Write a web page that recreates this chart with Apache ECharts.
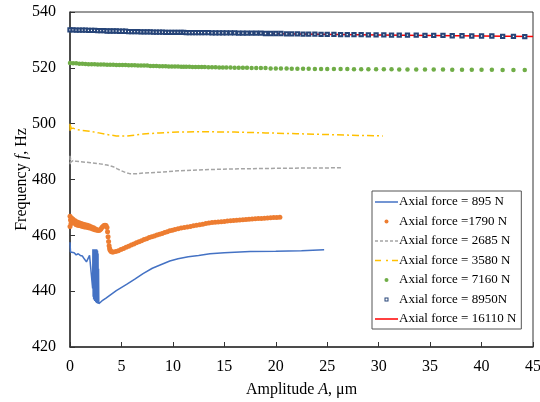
<!DOCTYPE html>
<html>
<head>
<meta charset="utf-8">
<script src="https://cdn.jsdelivr.net/npm/echarts@6/dist/echarts.min.js"></script>
<style>
  html, body { margin: 0; padding: 0; background: #fff; }
  #chart { width: 540px; height: 402px; }
</style>
</head>
<body>
<div id="chart"></div>
<script>
// 图例名称
var names = ['Axial force = 895 N', 'Axial force =1790 N', 'Axial force = 2685 N', 'Axial force = 3580 N',
  'Axial force = 7160 N', 'Axial force = 8950N', 'Axial force = 16110 N'];

// 895 N
var amp895 = [0, 0.05, 0.2, 0.4, 0.6, 0.8, 1.0, 1.2, 1.4, 1.6, 1.75, 1.9, 2.05,
  2.2, 2.225, 2.25, 2.275, 2.3, 2.325, 2.35, 2.375, 2.4, 2.425, 2.45, 2.475, 2.5, 2.525, 2.55, 2.575,
  2.6, 2.625, 2.65, 2.675, 2.7, 2.725, 2.75, 2.775, 2.8, 2.9, 3.1, 3.5, 3.9, 4.5, 5.5, 6.3, 7.1, 8.0, 8.7, 9.7, 10.5, 11.5, 12.5,
  13.6, 15, 17.5, 20, 22.5, 24.7];
var freq895 = [457.5, 454, 453.3, 453.8, 453, 453.4, 452.8, 452.6, 451.5, 450.5, 451.2, 452.8, 453,
  441, 455, 438, 455, 437, 455, 437, 455, 436.5, 455, 436.5, 455, 436, 455, 436, 455,
  435.8, 454.8, 435.7, 454.5, 435.6, 453.5, 435.5, 448, 435.5, 435.8, 436.5, 437.5, 438.6, 440.2, 442.4, 444.3, 446.3, 448.2, 449.3, 450.8, 451.6, 452.3, 452.8,
  453.4, 453.8, 454.2, 454.3, 454.5, 454.8];

// 1790 N
var amp1790 = [0, 0, 0.05, 0.1, 0.15, 0.2, 0.3, 0.4, 0.5, 0.6, 0.7, 0.8, 0.9, 1.0, 1.1, 1.2, 1.3, 1.4, 1.5, 1.6,
  1.7, 1.8, 1.9, 2.0, 2.1, 2.2, 2.3, 2.4, 2.5, 2.6, 2.7, 2.8, 2.9, 3.0, 3.1, 3.2, 3.3, 3.4, 3.5, 3.6,
  3.65, 3.7, 3.75, 3.8, 3.85, 3.9, 4.0, 4.1, 4.2, 4.45, 4.7, 4.95, 5.2, 5.45, 5.7, 5.95, 6.2, 6.45, 6.7, 6.95,
  7.2, 7.45, 7.7, 7.95, 8.2, 8.45, 8.7, 8.95, 9.2, 9.45, 9.7, 9.95, 10.2, 10.5, 10.8, 11.1, 11.4, 11.7, 12.0, 12.3,
  12.6, 12.9, 13.2, 13.5, 13.8, 14.1, 14.4, 14.7, 15.0, 15.3, 15.6, 15.9, 16.2, 16.5, 16.8, 17.1, 17.4, 17.7, 18.0, 18.3,
  18.6, 18.9, 19.2, 19.5, 19.8, 20.1, 20.4];
var freq1790 = [463.2, 466.8, 465.5, 464.2, 466.2, 464.6, 465.8, 464.3, 465.2, 463.8, 464.8, 463.5, 464.5, 463.4, 464.2, 463.2, 464.0, 463.0, 463.8, 462.9,
  463.6, 462.7, 463.3, 462.5, 463.0, 462.3, 462.7, 462.0, 462.3, 461.8, 461.9, 461.7, 461.9, 462.3, 462.8, 463.2, 463.5, 463.6, 463.5, 462.8,
  461.3, 459.5, 457.8, 456.3, 455.3, 454.7, 454.2, 454.0, 454.0, 454.2, 454.5, 454.9, 455.3, 455.7, 456.1, 456.5, 456.9, 457.3, 457.7, 458.1,
  458.5, 458.8, 459.2, 459.5, 459.8, 460.1, 460.4, 460.7, 461.0, 461.3, 461.6, 461.8, 462.1, 462.4, 462.6, 462.8, 463.0, 463.2, 463.4, 463.6,
  463.8, 464.0, 464.2, 464.4, 464.6, 464.7, 464.8, 464.9, 465.0, 465.1, 465.2, 465.3, 465.4, 465.5, 465.6, 465.7, 465.8, 465.85, 465.9, 466.0,
  466.05, 466.1, 466.2, 466.3, 466.35, 466.4, 466.5];

// 2685 N
var amp2685 = [0, 0.02, 0.05, 0.1, 0.3, 0.6, 1.0, 2.0, 2.9, 3.6, 4.2, 4.6, 5.0, 5.4, 5.8, 6.5, 7.1, 8.7, 10.5, 13, 16, 20, 23, 26.5];
var freq2685 = [488.5, 485.5, 487.8, 486.2, 486.8, 486.5, 486.4, 486.0, 485.6, 485.2, 484.6, 483.8, 483.1, 482.5, 482.1, 482.1, 482.3, 482.6, 483.1, 483.5, 483.8, 484.0, 484.1, 484.2];

// 3580 N
var amp3580 = [0, 0.02, 0.05, 0.1, 0.3, 0.65, 1.2, 1.9, 2.8, 3.6, 4.5, 5.5, 6.3, 7.1, 8.7, 10.5, 13, 16, 19, 22, 25, 28, 30.4];
var freq3580 = [500, 497.2, 499.5, 498.2, 498.4, 497.9, 497.6, 497.3, 496.7, 496.1, 495.6, 495.6, 495.9, 496.3, 496.7, 497.0, 497.1, 497.0, 496.7, 496.4, 496.1, 495.8, 495.6];

// 7160 N 与 8950 N 共用的振幅点
var ampMark = [0, 0.3, 0.6, 0.9, 1.2, 1.5, 1.8, 2.1, 2.4, 2.7, 3.0, 3.3, 3.6, 3.9, 4.2, 4.5, 4.8,
  5.1, 5.4, 5.7, 6.0, 6.3, 6.6, 6.9, 7.2, 7.5, 7.8, 8.1, 8.4, 8.7, 9.0, 9.3, 9.6, 9.9,
  10.2, 10.5, 10.8,
  11.05, 11.3, 11.6, 11.9, 12.2, 12.5, 12.8, 13.1, 13.45, 13.8, 14.15, 14.5, 14.85,
  15.2, 15.6, 16.0, 16.4, 16.8, 17.2, 17.65, 18.1, 18.55, 19.0, 19.5, 20.0,
  20.5, 21.05, 21.55, 22.1, 22.65, 23.2, 23.8, 24.4, 25.0,
  25.65, 26.3, 26.95, 27.6, 28.3, 29.0, 29.75, 30.5, 31.25, 32.0, 32.8, 33.65, 34.5, 35.35, 36.25, 37.15, 38.1, 39.05, 40.0, 41.0, 42.05, 43.1, 44.2];
var freq7160 = [521.7, 521.6, 521.6, 521.5, 521.5, 521.4, 521.3, 521.3, 521.3, 521.2, 521.2, 521.2, 521.1, 521.1, 521.1, 521.0, 521.0,
  521.0, 521.0, 520.9, 520.9, 520.9, 520.8, 520.8, 520.8, 520.8, 520.7, 520.7, 520.7, 520.6, 520.6, 520.6, 520.5, 520.5,
  520.5, 520.5, 520.4,
  520.4, 520.4, 520.4, 520.3, 520.3, 520.3, 520.3, 520.3, 520.2, 520.2, 520.2, 520.1, 520.1,
  520.1, 520.1, 520.0, 520.0, 520.0, 520.0, 519.9, 519.9, 519.9, 519.9, 519.8, 519.8,
  519.8, 519.8, 519.7, 519.7, 519.7, 519.7, 519.6, 519.6, 519.6,
  519.6, 519.6, 519.6, 519.5, 519.5, 519.5, 519.5, 519.5, 519.5, 519.4, 519.4, 519.4, 519.4, 519.4, 519.4, 519.3, 519.3, 519.3, 519.3, 519.3, 519.2, 519.2, 519.2];
var freq8950 = [533.6, 533.6, 533.5, 533.5, 533.5, 533.5, 533.4, 533.4, 533.4, 533.3, 533.3, 533.3, 533.2, 533.2, 533.2, 533.2, 533.1,
  533.1, 533.1, 533.0, 533.0, 533.0, 533.0, 532.9, 532.9, 532.9, 532.9, 532.8, 532.8, 532.8, 532.8, 532.7, 532.7, 532.7,
  532.7, 532.7, 532.7,
  532.7, 532.6, 532.6, 532.6, 532.6, 532.6, 532.6, 532.6, 532.6, 532.5, 532.5, 532.5, 532.5,
  532.5, 532.5, 532.5, 532.4, 532.4, 532.4, 532.4, 532.4, 532.4, 532.3, 532.3, 532.3,
  532.3, 532.2, 532.2, 532.2, 532.1, 532.1, 532.1, 532.0, 532.0,
  532.0, 531.9, 531.9, 531.9, 531.9, 531.8, 531.8, 531.8, 531.7, 531.7, 531.7, 531.7, 531.6, 531.6, 531.6, 531.5, 531.5, 531.4, 531.4, 531.4, 531.3, 531.3, 531.2];

// 16110 N
var amp16110 = [0, 10, 20, 30, 45];
var freq16110 = [533.4, 532.6, 532.2, 531.8, 531.2];

// 坐标轴刻度
var xTicks = { min: 0, max: 45, interval: 5 };
var yTicks = { min: 420, max: 540, interval: 20 };

function pairs(xs, ys) {
  return xs.map(function (x, i) { return [x, ys[i]]; });
}

var font = 'Liberation Serif, Times New Roman, serif';

// 图例图标：实线、虚线、点划线、空心方块
var iconSolid = 'path://M0,0H23V1.5H0Z';
var iconDash = 'path://M0,0H3V1.5H0Z M5,0H8V1.5H5Z M10,0H13V1.5H10Z M15,0H18V1.5H15Z M20,0H23V1.5H20Z';
var iconDashDot = 'path://M0,0H6V1.5H0Z M11,0H13V1.5H11Z M17,0H23V1.5H17Z';
var iconSquare = 'path://M0,0L0,0 M23,0L23,0 M9.5,0H13.5V4H9.5Z M10.5,1V3H12.5V1Z';
var legendIcons = [iconSolid, 'circle', iconDash, iconDashDot, 'circle', iconSquare, iconSolid];

var myChart = echarts.init(document.getElementById('chart'));
var option = {
  animation: false,
  grid: {
    left: 70, right: 7, top: 12, bottom: 55,
    outerBoundsMode: 'none', containLabel: false,
    show: true, borderColor: '#333', borderWidth: 1
  },
  legend: {
    orient: 'vertical',
    left: 372, top: 191,
    padding: [4, 5, 3, 3],
    backgroundColor: '#fff',
    borderColor: '#555',
    borderWidth: 1,
    itemWidth: 23,
    itemHeight: 4,
    itemGap: 5.5,
    symbolKeepAspect: true,
    selectedMode: false,
    textStyle: { fontFamily: font, fontSize: 13, color: '#000', lineHeight: 14, padding: [0, 0, 0, -4] },
    data: names.map(function (n, i) {
      return { name: n, icon: legendIcons[i] };
    })
  },
  xAxis: {
    type: 'value',
    min: xTicks.min, max: xTicks.max, interval: xTicks.interval,
    name: '{n|Amplitude }{i|A}{n|, μm}',
    nameLocation: 'middle',
    nameGap: 35,
    nameMoveOverlap: false,
    nameTextStyle: {
      rich: {
        n: { fontFamily: font, fontSize: 16, color: '#000' },
        i: { fontFamily: font, fontSize: 16, color: '#000', fontStyle: 'italic' }
      }
    },
    axisLine: { onZero: false, lineStyle: { color: '#333', width: 1.5 } },
    axisTick: { inside: true, length: 5, lineStyle: { color: '#333' } },
    axisLabel: { fontFamily: font, fontSize: 16, color: '#000', margin: 12 },
    splitLine: { show: false }
  },
  yAxis: {
    type: 'value',
    min: yTicks.min, max: yTicks.max, interval: yTicks.interval,
    name: '{n|Frequency }{i|f}{n|, Hz}',
    nameLocation: 'middle',
    nameGap: 40,
    nameMoveOverlap: false,
    nameTextStyle: {
      rich: {
        n: { fontFamily: font, fontSize: 16, color: '#000' },
        i: { fontFamily: font, fontSize: 16, color: '#000', fontStyle: 'italic' }
      }
    },
    axisLine: { onZero: false, lineStyle: { color: '#333', width: 1.5 } },
    axisTick: { inside: true, length: 5, lineStyle: { color: '#333' } },
    axisLabel: { fontFamily: font, fontSize: 16, color: '#000', margin: 14 },
    splitLine: { show: false }
  },
  series: [
    {
      name: names[0], type: 'line', symbol: 'none', z: 2,
      lineStyle: { color: '#4472C4', width: 1.5 }, itemStyle: { color: '#4472C4' },
      data: pairs(amp895, freq895)
    },
    {
      name: names[1], type: 'scatter', symbol: 'circle', symbolSize: 5, z: 2,
      itemStyle: { color: '#ED7D31', opacity: 1 },
      data: pairs(amp1790, freq1790)
    },
    {
      name: names[2], type: 'line', symbol: 'none', z: 2,
      lineStyle: { color: '#A5A5A5', width: 1.5, type: [4, 2] }, itemStyle: { color: '#A5A5A5' },
      data: pairs(amp2685, freq2685)
    },
    {
      name: names[3], type: 'line', symbol: 'none', z: 2,
      lineStyle: { color: '#FFC000', width: 1.5, type: [7, 3, 2, 3] }, itemStyle: { color: '#FFC000' },
      data: pairs(amp3580, freq3580)
    },
    {
      name: names[4], type: 'scatter', symbol: 'circle', symbolSize: 4.5, z: 2,
      itemStyle: { color: '#70AD47', opacity: 1 },
      data: pairs(ampMark, freq7160)
    },
    {
      name: names[5], type: 'scatter', symbol: 'emptyRect', symbolSize: 3.3, z: 3,
      itemStyle: { color: '#264478', borderWidth: 1, opacity: 1 },
      data: pairs(ampMark, freq8950)
    },
    {
      name: names[6], type: 'line', symbol: 'none', z: 1,
      lineStyle: { color: '#FF0000', width: 1.5 }, itemStyle: { color: '#FF0000' },
      data: pairs(amp16110, freq16110)
    }
  ]
};
myChart.setOption(option);
window.addEventListener('resize', function () {
  myChart.resize();
});
</script>
</body>
</html>
